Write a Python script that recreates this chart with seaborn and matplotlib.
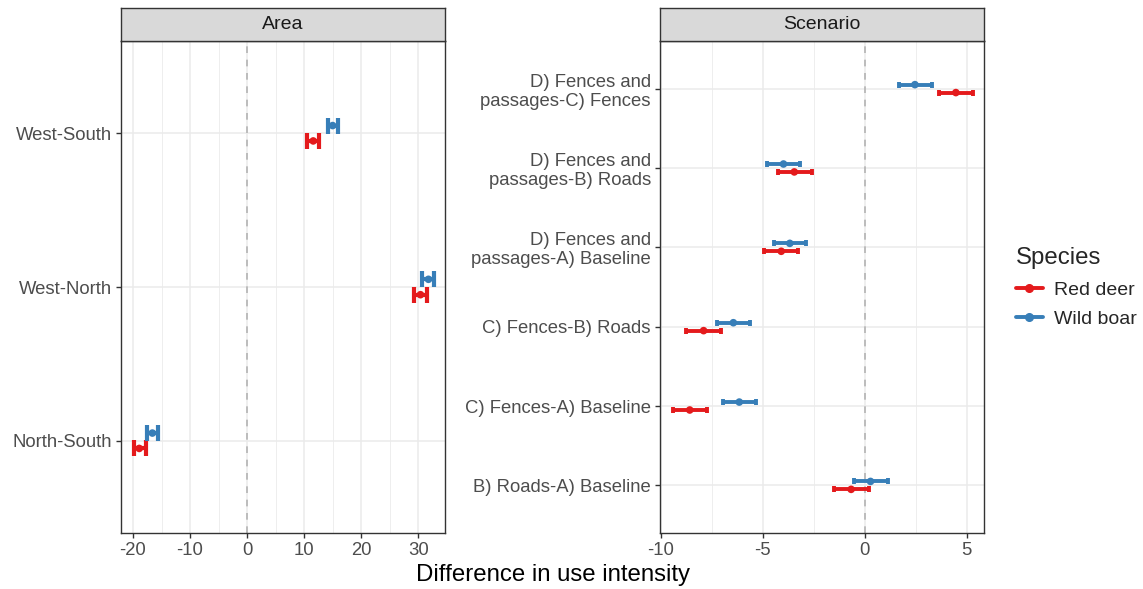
import numpy as np
import pandas as pd
import seaborn as sns
import matplotlib
matplotlib.use("Agg")
import matplotlib.pyplot as plt
from matplotlib.lines import Line2D
from matplotlib.ticker import FixedLocator

# ---------------- data ----------------
species = ["Red deer", "Wild boar"]
palette = {"Red deer": "#E41A1C", "Wild boar": "#377EB8"}

area_cats = ["West-South", "West-North", "North-South"]
area_red_est = [11.6, 30.4, -18.9]
area_red_lo = [10.5, 29.3, -19.9]
area_red_hi = [12.6, 31.6, -17.8]
area_boar_est = [15.0, 31.8, -16.6]
area_boar_lo = [14.2, 30.6, -17.6]
area_boar_hi = [16.0, 32.7, -15.6]

scen_cats = ["D) Fences and\npassages-C) Fences",
             "D) Fences and\npassages-B) Roads",
             "D) Fences and\npassages-A) Baseline",
             "C) Fences-B) Roads",
             "C) Fences-A) Baseline",
             "B) Roads-A) Baseline"]
scen_red_est = [4.47, -3.46, -4.10, -7.91, -8.59, -0.67]
scen_red_lo = [3.65, -4.25, -4.93, -8.75, -9.39, -1.49]
scen_red_hi = [5.32, -2.59, -3.28, -7.06, -7.73, 0.20]
scen_boar_est = [2.46, -3.99, -3.68, -6.45, -6.16, 0.28]
scen_boar_lo = [1.69, -4.78, -4.48, -7.26, -6.96, -0.51]
scen_boar_hi = [3.29, -3.17, -2.89, -5.63, -5.32, 1.13]

area_xticks = [-20, -10, 0, 10, 20, 30]
scen_xticks = [-10, -5, 0, 5]


def make_df(cats, r_est, r_lo, r_hi, b_est, b_lo, b_hi):
    rows = []
    for i, c in enumerate(cats):
        rows.append(dict(cat=c, pos=i, species="Red deer", est=r_est[i], lo=r_lo[i], hi=r_hi[i]))
        rows.append(dict(cat=c, pos=i, species="Wild boar", est=b_est[i], lo=b_lo[i], hi=b_hi[i]))
    return pd.DataFrame(rows)


df_area = make_df(area_cats, area_red_est, area_red_lo, area_red_hi,
                  area_boar_est, area_boar_lo, area_boar_hi)
df_scen = make_df(scen_cats, scen_red_est, scen_red_lo, scen_red_hi,
                  scen_boar_est, scen_boar_lo, scen_boar_hi)

# ---------------- style ----------------
sns.set_style("white")
plt.rcParams["font.family"] = ["Liberation Sans", "DejaVu Sans"]

W, H = 1143, 589
fig = plt.figure(figsize=(W / 100, H / 100), dpi=100)


def px_axes(x0, y0, x1, y1):
    return fig.add_axes([x0 / W, 1 - y1 / H, (x1 - x0) / W, (y1 - y0) / H])


TICK_COL = "#4D4D4D"
BORDER = "#333333"
GRID = "#EBEBEB"
DODGE = 0.05


def draw_panel(ax, df, cats, xlim, xticks, minor, capsize, lw, title, strip_box):
    n = len(cats)
    df = df.copy()
    df["y"] = df["pos"] + np.where(df["species"] == "Red deer", DODGE, -DODGE)
    ax.set_xlim(*xlim)
    ax.set_ylim(n - 1 + 0.6, -0.6)
    # grids
    for m in minor:
        ax.axvline(m, color=GRID, lw=0.6, zorder=0)
    for t in xticks:
        ax.axvline(t, color=GRID, lw=1.1, zorder=0)
    for i in range(n):
        ax.axhline(i, color=GRID, lw=1.1, zorder=0)
    ax.axvline(0, color="#B3B3B3", lw=1.2, ls=(0, (4, 4)), zorder=1)
    # error bars
    for sp in species:
        d = df[df["species"] == sp]
        ax.errorbar(d["est"], d["y"], xerr=[d["est"] - d["lo"], d["hi"] - d["est"]],
                    fmt="none", ecolor=palette[sp], elinewidth=lw,
                    capsize=capsize, capthick=lw, zorder=2)
    sns.scatterplot(data=df, x="est", y="y", hue="species", palette=palette,
                    s=30, edgecolor="none", legend=False, ax=ax, zorder=3)
    ax.set_xlabel("")
    ax.set_ylabel("")
    ax.xaxis.set_major_locator(FixedLocator(xticks))
    ax.set_xticklabels([f"{t:g}" for t in xticks])
    ax.set_yticks(range(n))
    ax.set_yticklabels(cats, linespacing=1.15)
    ax.tick_params(axis="both", colors=BORDER, labelcolor=TICK_COL, labelsize=13.3,
                   length=3.5, width=1.0, direction="out", pad=3,
                   bottom=True, left=True)
    for s in ax.spines.values():
        s.set_color(BORDER)
        s.set_linewidth(1.0)
        s.set_visible(True)
    # strip
    sx = px_axes(*strip_box)
    sx.set_facecolor("#D9D9D9")
    sx.set_xticks([])
    sx.set_yticks([])
    for s in sx.spines.values():
        s.set_color(BORDER)
        s.set_linewidth(1.0)
    sx.text(0.5, 0.5, title, ha="center", va="center", fontsize=14, color="#1A1A1A",
            transform=sx.transAxes)


ax1 = px_axes(121, 41, 445, 533)
draw_panel(ax1, df_area, area_cats, (-22.1, 34.7), area_xticks,
           [-15, -5, 5, 15, 25], 5.6, 3.0, "Area", (121, 8, 445, 41))

ax2 = px_axes(660, 41, 984, 533)
draw_panel(ax2, df_scen, scen_cats, (-10.05, 5.85), scen_xticks,
           [-7.5, -2.5, 2.5], 2.4, 2.8, "Scenario", (660, 8, 984, 41))

fig.text(553 / W, 1 - 575 / H, "Difference in use intensity", ha="center", va="center",
         fontsize=17.3, color="black")

handles = [Line2D([0], [0], color=palette[sp], lw=2.8, marker="o", markersize=5.5)
           for sp in species]
leg = fig.legend(handles, species, title="Species", loc="upper left",
                 bbox_to_anchor=(1000 / W, 1 - 231 / H), frameon=False,
                 fontsize=14, title_fontsize=17.3, handlelength=1.4,
                 handletextpad=0.6, labelspacing=0.6, alignment="left",
                 borderpad=0.3)
leg._legend_box.sep = 9

fig.savefig("out.png", dpi=100)
